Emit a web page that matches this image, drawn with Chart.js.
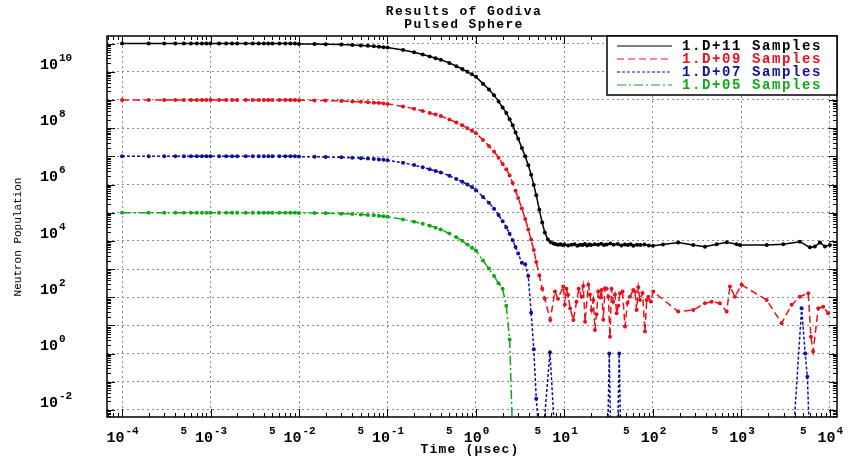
<!DOCTYPE html>
<html>
<head>
<meta charset="utf-8">
<title>Results of Godiva - Pulsed Sphere</title>
<script src="https://cdn.jsdelivr.net/npm/chart.js@4.4.1/dist/chart.umd.min.js"></script>
<style>
  html, body { margin: 0; padding: 0; background: #fff; }
  canvas { display: block; }
</style>
</head>
<body>
<canvas id="godivaChart" width="849" height="459"></canvas>
<script>
// ============================================================================
// Godiva pulsed sphere – neutron population vs time, four sample sizes
// ============================================================================

/* ============================================================
   DATA (time in usec, population stored as log10 values)
============================================================ */
const timeGrid = [
  1e-4, 2e-4, 3e-4, 4e-4, 5e-4, 6e-4, 7e-4, 8e-4, 9e-4,
  1e-3, 1.25e-3, 1.5e-3, 1.75e-3, 2e-3, 2.5e-3, 3e-3, 3.5e-3, 4e-3, 4.5e-3, 5e-3, 6e-3, 7e-3, 8e-3, 9e-3,
  1e-2, 1.5e-2, 2e-2, 3e-2, 4e-2, 5e-2, 6e-2, 7e-2, 8e-2, 9e-2,
  0.1, 0.15, 0.2, 0.25, 0.3, 0.35, 0.4, 0.5, 0.6, 0.7, 0.8, 0.9,
  1.0, 1.2, 1.4, 1.6, 1.8, 2.0, 2.2, 2.4, 2.6, 2.8, 3.0, 3.3, 3.6, 3.9, 4.2, 4.5, 4.8, 5.2, 5.6, 6.0,
];

// 1.D+11 samples
const blackLogN = [
  11, 11, 11, 11, 11, 11, 11, 11, 11,
  11, 11, 11, 11, 11, 11, 11, 11, 11, 11, 11, 11, 11, 11, 11,
  10.99, 10.985, 10.98, 10.965, 10.95, 10.935, 10.92, 10.905, 10.89, 10.875,
  10.86, 10.77, 10.69, 10.61, 10.54, 10.48, 10.43, 10.31, 10.20, 10.10, 10.00, 9.91,
  9.82, 9.58, 9.37, 9.17, 8.95, 8.73, 8.54, 8.32, 8.10, 7.85, 7.62, 7.30, 7.00, 6.68, 6.35, 5.98, 5.62, 5.10, 4.65, 4.30,
];
const blackTailT = [
  6.5, 7.0, 7.5, 8.0, 8.5, 9.0, 9.5, 10, 11, 12, 13, 14, 15, 16, 17, 18, 19, 20,
  22, 24, 26, 28, 30, 33, 36, 40, 44, 48, 52, 56, 60, 66, 72, 80, 90, 100, 130,
  193, 285, 387, 525, 681, 883, 962, 1930, 2970, 4580, 5940, 6760, 7710, 8790, 10000,
];
const blackTailLogN = [
  4.05, 3.95, 3.91, 3.88, 3.86, 3.88, 3.85, 3.87, 3.84, 3.86, 3.88, 3.83, 3.86, 3.85, 3.89, 3.84, 3.87, 3.85,
  3.88, 3.86, 3.90, 3.85, 3.87, 3.91, 3.86, 3.89, 3.84, 3.87, 3.85, 3.88, 3.83, 3.86, 3.85, 3.87, 3.84, 3.83, 3.87,
  3.94, 3.85, 3.79, 3.88, 3.95, 3.88, 3.85, 3.85, 3.88, 3.97, 3.77, 3.80, 3.94, 3.80, 3.85,
];

// 1.D+09 samples
const redLogN = [
  9, 9, 9, 9, 9, 9, 9, 9, 9,
  9, 9, 9, 9, 9, 9, 9, 9, 9, 9, 9, 9, 9, 9, 9,
  8.99, 8.985, 8.98, 8.965, 8.95, 8.935, 8.92, 8.905, 8.89, 8.875,
  8.86, 8.77, 8.69, 8.61, 8.54, 8.48, 8.43, 8.31, 8.20, 8.10, 8.00, 7.91,
  7.82, 7.58, 7.37, 7.17, 6.95, 6.73, 6.54, 6.32, 6.05, 5.78, 5.52, 5.15, 4.78, 4.40, 4.05, 3.68, 3.25, 2.78, 2.30, 1.95,
];
const redTailT = [
  6.9, 7.8, 8.45, 9.7, 10.1, 10.5, 11.0, 11.6, 12.6, 13.7,
  14.5, 15.6, 16.3, 17.1, 18.6, 19.4, 20.3, 21.2, 22.1, 23.0,
  24.1, 25.2, 26.3, 27.5, 28.7, 30.0, 31.3, 32.7, 34.0, 35.6,
  37.2, 38.9, 40.6, 42.4, 45.3, 48.3, 51.6, 55.0, 59.9, 62.6,
  65.4, 68.3, 71.3, 76.2, 81.3, 85.0, 88.5, 94.5, 100.7,
  193, 285, 387, 460, 571, 681, 741, 845, 1005,
  1930, 2845, 3690, 4580, 5690, 6100, 6460, 7380, 8410, 9550,
];
const redTailLogN = [
  1.19, 2.20, 1.95, 2.38, 1.73, 2.30, 2.08, 1.60, 1.19, 1.84,
  2.30, 2.02, 2.40, 1.13, 2.44, 2.10, 1.55, 1.90, 0.84, 1.40,
  2.20, 2.00, 2.26, 1.20, 2.32, 2.30, 2.02, 0.60, 2.30, 1.84,
  2.10, 1.43, 1.70, 2.14, 2.20, 0.96, 1.80, 2.02, 2.26, 2.20,
  1.55, 2.35, 1.90, 2.15, 0.78, 1.90, 2.02, 1.85, 2.20,
  1.49, 1.55, 1.79, 1.84, 1.79, 1.49, 2.38, 2.02, 2.44,
  1.90, 1.08, 1.73, 2.02, 2.14, 0.60, 0.07, 1.61, 1.66, 1.43,
];

// 1.D+07 samples (-3 = empty bin, below the axis)
const blueLogN = [
  7, 7, 7, 7, 7, 7, 7, 7, 7,
  7, 7, 7, 7, 7, 7, 7, 7, 7, 7, 7, 7, 7, 7, 7,
  6.99, 6.985, 6.98, 6.965, 6.95, 6.935, 6.92, 6.905, 6.89, 6.875,
  6.86, 6.77, 6.69, 6.61, 6.54, 6.48, 6.43, 6.31, 6.20, 6.10, 6.00, 5.91,
  5.80, 5.56, 5.35, 5.14, 4.92, 4.70, 4.48, 4.25, 4.02, 3.78, 3.55, 3.22, 3.17, 2.75, 1.45, 0.15, -1.60, -3,
];
const blueTailT = [5.7, 6.86, 7.8, 30.8, 32.1, 33.3, 39.8, 41.6, 43.2, 3840, 4790, 5250, 5560, 5890];
const blueTailLogN = [-3, 0.05, -3, -3, 0.0, -3, -3, 0.0, -3, -3, 1.61, 0.0, -0.82, -3];

// 1.D+05 samples
const greenLogN = [
  5, 5, 5, 5, 5, 5, 5, 5, 5,
  5, 5, 5, 5, 5, 5, 5, 5, 5, 5, 5, 5, 5, 5, 5,
  4.99, 4.985, 4.98, 4.965, 4.95, 4.935, 4.92, 4.905, 4.89, 4.875,
  4.86, 4.76, 4.68, 4.61, 4.54, 4.47, 4.40, 4.26, 4.13, 4.00, 3.87, 3.76,
  3.66, 3.30, 3.02, 2.75, 2.50, 2.30, 1.70, 0.50, -3,
];
const greenTailT = [];
const greenTailLogN = [];

const seriesLabels = ["1.D+11 Samples", "1.D+09 Samples", "1.D+07 Samples", "1.D+05 Samples"];

// axis ticks
const xDecadeExps = [-4, -3, -2, -1, 0, 1, 2, 3, 4];
const xFiveTicks = [5e-4, 5e-3, 5e-2, 5e-1, 5, 50, 500, 5000];
const yLabelExps = [10, 8, 6, 4, 2, 0, -2];
const yDecadeExps = [-2, -1, 0, 1, 2, 3, 4, 5, 6, 7, 8, 9, 10, 11];
const minorSteps = [2, 3, 4, 5, 6, 7, 8, 9];

/* ============================================================
   STYLE
============================================================ */
const X_MIN = Math.pow(10, -4.17);
const X_MAX = Math.pow(10, 4.08);
const Y_MIN = Math.pow(10, -2.25);
const Y_MAX = Math.pow(10, 11.27);

const MONO = '"Liberation Mono", "DejaVu Sans Mono", monospace';
const COLORS = { black: "#000000", red: "#e8101a", blue: "#10109a", green: "#10a818" };

function buildPoints(logN, tailT, tailLogN) {
  const pts = logN.map((v, i) => ({ x: timeGrid[i], y: Math.pow(10, v) }));
  tailT.forEach((t, i) => pts.push({ x: t, y: Math.pow(10, tailLogN[i]) }));
  return pts;
}

function makeDataset(label, color, dash, logN, tailT, tailLogN) {
  return {
    label,
    data: buildPoints(logN, tailT, tailLogN),
    borderColor: color,
    backgroundColor: color,
    borderWidth: 1.5,
    borderDash: dash,
    pointRadius: 2,
    pointBorderWidth: 0,
    pointBackgroundColor: color,
    tension: 0,
  };
}

const datasets = [
  makeDataset(seriesLabels[0], COLORS.black, [], blackLogN, blackTailT, blackTailLogN),
  makeDataset(seriesLabels[1], COLORS.red, [7, 4], redLogN, redTailT, redTailLogN),
  makeDataset(seriesLabels[2], COLORS.blue, [3, 2], blueLogN, blueTailT, blueTailLogN),
  makeDataset(seriesLabels[3], COLORS.green, [9, 3, 2, 3], greenLogN, greenTailT, greenTailLogN),
];

/* ============================================================
   DECORATIONS: frame, ticks, labels, legend, titles
============================================================ */
function drawPower(ctx, exp, x, y, align) {
  ctx.font = "bold 15px " + MONO;
  const wb = ctx.measureText("10").width;
  ctx.font = "bold 11px " + MONO;
  const ws = ctx.measureText(String(exp)).width;
  const start = align === "center" ? x - (wb + ws) / 2 : x;
  ctx.textAlign = "left";
  ctx.font = "bold 15px " + MONO;
  ctx.fillText("10", start, y);
  ctx.font = "bold 11px " + MONO;
  ctx.fillText(String(exp), start + wb + 1, y - 7);
}

function tickValues(exps, lo, hi) {
  const out = [];
  const first = Math.floor(Math.log10(lo));
  const last = Math.ceil(Math.log10(hi));
  for (let e = first; e <= last; e++) {
    const base = Math.pow(10, e);
    if (base >= lo && base <= hi) out.push({ v: base, major: true });
    minorSteps.forEach((m) => {
      const v = m * base;
      if (v >= lo && v <= hi) out.push({ v, major: false });
    });
  }
  return out;
}

const decorations = {
  id: "godivaDecorations",
  afterDraw(chart) {
    const { ctx, chartArea: a, scales } = chart;
    const xs = scales.x;
    const ys = scales.y;
    ctx.save();
    ctx.fillStyle = "#000";
    ctx.strokeStyle = "#000";
    ctx.textBaseline = "middle";

    // frame
    ctx.lineWidth = 1.5;
    ctx.strokeRect(a.left, a.top, a.right - a.left, a.bottom - a.top);

    // inward ticks, all four sides
    ctx.lineWidth = 1;
    ctx.beginPath();
    tickValues(xDecadeExps, X_MIN, X_MAX).forEach(({ v, major }) => {
      const px = Math.round(xs.getPixelForValue(v)) + 0.5;
      const len = major ? 8 : 4;
      ctx.moveTo(px, a.bottom); ctx.lineTo(px, a.bottom - len);
      ctx.moveTo(px, a.top); ctx.lineTo(px, a.top + len);
    });
    tickValues(yDecadeExps, Y_MIN, Y_MAX).forEach(({ v, major }) => {
      const py = Math.round(ys.getPixelForValue(v)) + 0.5;
      const len = major ? 8 : 4;
      ctx.moveTo(a.left, py); ctx.lineTo(a.left + len, py);
      ctx.moveTo(a.right, py); ctx.lineTo(a.right - len, py);
    });
    ctx.stroke();

    // x tick labels
    xDecadeExps.forEach((e) => drawPower(ctx, e, xs.getPixelForValue(Math.pow(10, e)), a.bottom + 21, "center"));
    ctx.font = "bold 11px " + MONO;
    ctx.textAlign = "center";
    xFiveTicks.forEach((v) => ctx.fillText("5", xs.getPixelForValue(v), a.bottom + 14));

    // y tick labels
    yLabelExps.forEach((e) => drawPower(ctx, e, 40, ys.getPixelForValue(Math.pow(10, e)) - 7, "left"));

    // axis titles
    ctx.textAlign = "center";
    ctx.font = "bold 13px " + MONO;
    ctx.letterSpacing = "1.2px";
    ctx.fillText("Time (\u03bcsec)", 470, 450);
    ctx.save();
    ctx.translate(18, 237);
    ctx.rotate(-Math.PI / 2);
    ctx.font = "11px " + MONO;
    ctx.letterSpacing = "0px";
    ctx.fillText("Neutron Population", 0, 0);
    ctx.restore();

    // title
    ctx.font = "bold 13px " + MONO;
    ctx.letterSpacing = "1.4px";
    ctx.fillText("Results of Godiva", 464, 12);
    ctx.fillText("Pulsed Sphere", 464, 25);

    // legend box
    const lx = 607, ly = a.top, lw = a.right - 607, lh = 59;
    ctx.fillStyle = "#fff";
    ctx.fillRect(lx, ly, lw, lh);
    ctx.lineWidth = 1.5;
    ctx.strokeStyle = "#000";
    ctx.strokeRect(lx, ly, lw, lh);
    ctx.textAlign = "left";
    ctx.font = "bold 14px " + MONO;
    ctx.letterSpacing = "1.6px";
    chart.data.datasets.forEach((ds, i) => {
      const rowY = 46 + i * 13;
      ctx.strokeStyle = ds.borderColor;
      ctx.lineWidth = 1.2;
      ctx.setLineDash(ds.borderDash);
      ctx.beginPath();
      ctx.moveTo(617, rowY); ctx.lineTo(672, rowY);
      ctx.stroke();
      ctx.setLineDash([]);
      ctx.fillStyle = ds.borderColor;
      ctx.fillText(ds.label, 682, rowY);
    });
    ctx.letterSpacing = "0px";
    ctx.restore();
  },
};

/* ============================================================
   CHART
============================================================ */
const gridStyle = { color: "#8a8a8a", lineWidth: 1, drawTicks: false };

new Chart(document.getElementById("godivaChart").getContext("2d"), {
  type: "line",
  data: { datasets },
  options: {
    responsive: false,
    animation: false,
    layout: { padding: { top: 36, right: 12, left: 0, bottom: 0 } },
    plugins: {
      legend: { display: false },
      title: { display: false },
      tooltip: { enabled: false },
    },
    scales: {
      x: {
        type: "logarithmic",
        min: X_MIN,
        max: X_MAX,
        ticks: { display: false },
        grid: gridStyle,
        border: { display: false, dash: [2, 3] },
        afterBuildTicks: (s) => { s.ticks = xDecadeExps.map((e) => ({ value: Math.pow(10, e) })); },
        afterFit: (s) => { s.height = 42; },
      },
      y: {
        type: "logarithmic",
        min: Y_MIN,
        max: Y_MAX,
        ticks: { display: false },
        grid: gridStyle,
        border: { display: false, dash: [2, 3] },
        afterBuildTicks: (s) => { s.ticks = yDecadeExps.map((e) => ({ value: Math.pow(10, e) })); },
        afterFit: (s) => { s.width = 107; },
      },
    },
  },
  plugins: [decorations],
});
</script>
</body>
</html>
